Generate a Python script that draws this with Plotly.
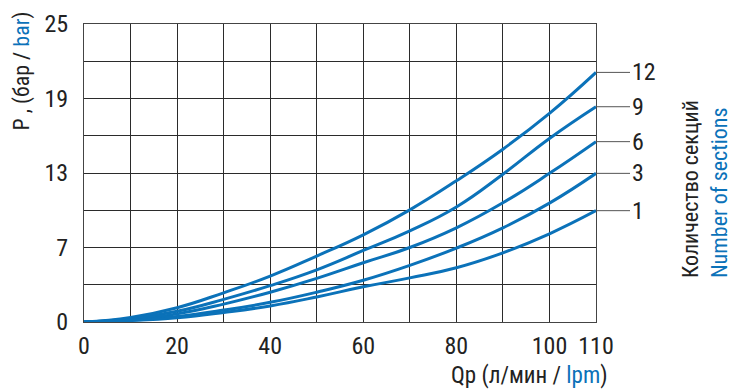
import plotly.graph_objects as go

# Flow Qp, l/min
flow = [0, 10, 20, 30, 40, 50, 60, 70, 80, 90, 100, 110]

# Pressure curves (0..25, grid every 3.125)
sec_12 = [0, 0.38, 1.2, 2.45, 3.85, 5.53, 7.31, 9.41, 11.85, 14.5, 17.5, 20.94]
sec_9 = [0, 0.28, 0.9, 1.9, 3.05, 4.38, 6.0, 7.65, 9.65, 12.4, 15.4, 18.06]
sec_6 = [0, 0.22, 0.68, 1.5, 2.5, 3.66, 4.97, 6.25, 7.9, 10.0, 12.47, 15.13]
sec_3 = [0, 0.15, 0.47, 1.0, 1.65, 2.5, 3.5, 4.75, 6.2, 7.9, 9.97, 12.47]
sec_1 = [0, 0.12, 0.36, 0.8, 1.35, 2.1, 2.95, 3.7, 4.55, 5.8, 7.4, 9.34]

series = [("12", sec_12), ("9", sec_9), ("6", sec_6), ("3", sec_3), ("1", sec_1)]

x_grid = list(range(0, 111, 10))
x_text = ["0", "", "20", "", "40", "", "60", "", "80", "", "100", "110"]
y_grid = [i * 3.125 for i in range(9)]
y_text = ["0", "", "7", "", "13", "", "19", "", "25"]

BLUE = "#0b72b9"
INK = "#222222"
FONT = "Roboto Condensed, Liberation Sans Narrow, Roboto, sans-serif"

fig = go.Figure()
for name, vals in series:
    fig.add_trace(go.Scatter(x=flow, y=vals, mode="lines", name=name,
                             line=dict(color=BLUE, width=3, shape="spline", smoothing=1.3),
                             showlegend=False))
    fig.add_annotation(x=flow[-1], y=vals[-1], text=name, showarrow=True,
                       arrowhead=0, arrowwidth=1, arrowcolor="#555555",
                       ax=34, ay=0, xanchor="left",
                       font=dict(size=24, color=INK, family=FONT))

fig.update_xaxes(range=[0, 110], tickvals=x_grid, ticktext=x_text,
                 showgrid=True, gridcolor="#2b2b2b", gridwidth=1,
                 showline=True, linecolor="#444444", linewidth=1, mirror=True,
                 zeroline=False, ticks="", ticklabelstandoff=2, automargin=False,
                 tickfont=dict(size=24, color=INK, family=FONT))
fig.update_yaxes(range=[0, 25], tickvals=y_grid, ticktext=y_text,
                 showgrid=True, gridcolor="#2b2b2b", gridwidth=1,
                 showline=True, linecolor="#444444", linewidth=1, mirror=True,
                 zeroline=False, ticks="", ticklabelstandoff=10, automargin=False,
                 tickfont=dict(size=24, color=INK, family=FONT))

fig.add_annotation(xref="paper", yref="paper", x=-0.121, y=1.047,
                   xanchor="center", yanchor="top", textangle=-90, showarrow=False,
                   text=f"P , (бар / <span style='color:{BLUE}'>bar</span>)",
                   font=dict(size=22, color=INK, family=FONT))
fig.add_annotation(xref="paper", yref="paper", x=1.027, y=-0.178,
                   xanchor="right", yanchor="middle", showarrow=False,
                   text=f"Qp (л/мин / <span style='color:{BLUE}'>lpm</span>)",
                   font=dict(size=23, color=INK, family=FONT))
fig.add_annotation(xref="paper", yref="paper", x=1.213, y=0.141,
                   xanchor="center", yanchor="bottom", textangle=-90,
                   showarrow=False, align="left",
                   text=f"Количество секций<br><span style='color:{BLUE}'>Number of sections</span>",
                   font=dict(size=22, color=INK, family=FONT))

# page body adds an 8px offset, so the figure is a bit smaller than the window
fig.update_layout(width=731, height=382, autosize=False,
                  margin=dict(l=76, r=143, t=16, b=68),
                  plot_bgcolor="white", paper_bgcolor="white")

fig.write_html("out.html")
